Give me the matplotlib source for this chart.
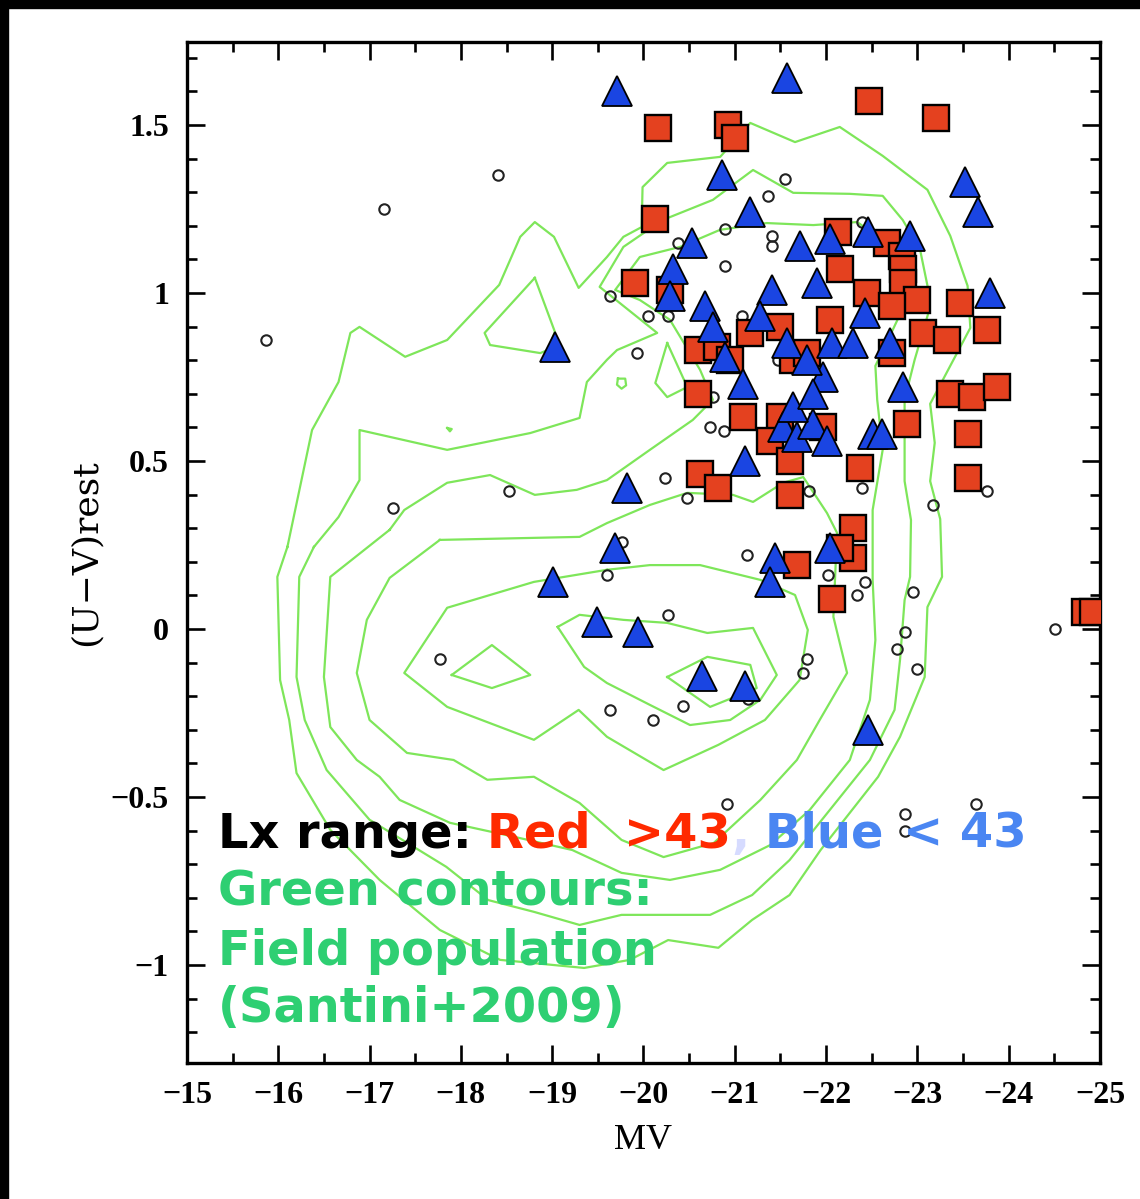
import matplotlib
matplotlib.use('Agg')
import matplotlib.pyplot as plt
from matplotlib.ticker import MultipleLocator
from matplotlib.patches import Rectangle

# --- field population contours (MV, U-V), outermost first ---
lev1_mv = [-16.10, -15.99, -16.02, -16.12, -16.20, -16.57, -17.11, -17.77, -18.43, -19.35, -19.85, -20.27,
           -20.82, -21.19, -21.60, -21.94, -22.57, -22.81, -23.08, -23.11, -23.27, -23.25, -23.14, -23.19,
           -23.14, -23.36, -23.58, -23.55, -23.36, -23.11, -22.62, -22.15, -21.66, -21.17, -20.84, -20.26,
           -19.99, -19.98, -19.78, -19.60, -19.29, -19.02, -18.81, -18.65, -18.42, -17.85, -17.39, -16.89,
           -16.79, -16.66, -16.37]
lev1_uv = [0.244, 0.155, -0.152, -0.271, -0.429, -0.598, -0.747, -0.896, -0.985, -1.009, -0.985, -0.926,
           -0.949, -0.866, -0.792, -0.658, -0.440, -0.321, -0.143, 0.065, 0.155, 0.327, 0.440, 0.554,
           0.670, 0.783, 0.896, 1.021, 1.170, 1.307, 1.408, 1.494, 1.449, 1.506, 1.405, 1.387,
           1.315, 1.196, 1.167, 1.107, 1.015, 1.167, 1.211, 1.167, 1.024, 0.860, 0.810, 0.899,
           0.881, 0.735, 0.592]

lev2_mv = [-16.39, -16.23, -16.20, -16.29, -16.53, -17.00, -17.84, -18.30, -18.80, -19.30, -19.76, -20.27,
           -20.73, -21.19, -21.60, -22.04, -22.48, -22.75, -22.81, -22.86, -22.92, -22.93, -22.86, -22.86,
           -22.86, -22.97, -23.12, -23.12, -23.03, -22.84, -22.62, -22.26, -21.64, -21.20, -20.76, -20.21,
           -19.78, -19.52, -20.15, -19.71, -19.60, -19.38, -19.30, -18.76, -17.85, -16.89, -16.89, -16.66]
lev2_uv = [0.244, 0.155, -0.143, -0.271, -0.420, -0.568, -0.708, -0.807, -0.842, -0.881, -0.851, -0.851,
           -0.851, -0.792, -0.688, -0.539, -0.390, -0.241, -0.092, 0.086, 0.155, 0.324, 0.440, 0.562,
           0.682, 0.801, 0.940, 1.009, 1.128, 1.217, 1.289, 1.295, 1.298, 1.366, 1.277, 1.217,
           1.137, 1.018, 0.881, 0.830, 0.801, 0.735, 0.628, 0.583, 0.533, 0.592, 0.443, 0.333]

lev3_mv = [-17.22, -17.38, -17.85, -18.32, -18.81, -19.27, -19.60, -20.07, -20.54, -20.76, -20.62, -20.29,
           -19.96, -19.69, -19.96, -20.40, -20.84, -21.35, -21.86, -22.34, -22.73, -22.92, -22.73, -22.54,
           -22.56, -22.62, -22.51, -22.51, -22.54, -22.48, -22.26, -21.82, -21.39, -20.84, -20.29, -19.76,
           -19.22, -18.59, -17.88, -17.33, -17.11, -16.86, -16.57, -16.50, -16.57]
lev3_uv = [0.295, 0.354, 0.435, 0.458, 0.399, 0.414, 0.443, 0.533, 0.622, 0.682, 0.771, 0.920,
           0.979, 1.009, 1.107, 1.137, 1.188, 1.208, 1.202, 1.211, 1.137, 1.000, 0.890, 0.783,
           0.682, 0.533, 0.354, 0.146, -0.033, -0.211, -0.390, -0.539, -0.643, -0.717, -0.747, -0.726,
           -0.658, -0.619, -0.577, -0.509, -0.440, -0.390, -0.292, -0.143, 0.155]

lev4_mv = [-17.77, -19.30, -19.60, -20.07, -20.48, -20.98, -21.20, -21.53, -21.75, -22.01, -22.12, -22.08,
           -22.23, -21.93, -21.68, -21.28, -20.77, -20.22, -19.76, -19.30, -18.80, -18.29, -17.92, -17.41,
           -17.00, -16.86, -16.97, -17.22]
lev4_uv = [0.265, 0.274, 0.315, 0.369, 0.405, 0.399, 0.378, 0.435, 0.452, 0.345, 0.286, 0.036,
           -0.131, -0.271, -0.390, -0.509, -0.637, -0.679, -0.628, -0.518, -0.440, -0.449, -0.390, -0.369,
           -0.271, -0.131, 0.027, 0.152]

lev5_mv = [-19.60, -18.80, -17.85, -17.38, -17.85, -18.80, -19.29, -19.60, -20.22, -20.82, -21.33, -21.71,
           -21.80, -21.66, -21.28, -20.62, -20.07]
lev5_uv = [0.176, 0.140, 0.063, -0.131, -0.232, -0.330, -0.241, -0.321, -0.420, -0.345, -0.271, -0.152,
           -0.003, 0.101, 0.146, 0.190, 0.190]

lev6_mv = [-19.06, -19.30, -19.78, -20.26, -20.70, -21.20, -21.46, -21.28, -20.95, -20.51, -20.07, -19.60, -19.35]
lev6_uv = [0.006, 0.042, 0.027, 0.018, -0.012, 0.003, -0.137, -0.211, -0.271, -0.286, -0.226, -0.161, -0.113]

peak_blue_mv = [-20.26, -20.70, -21.17, -21.24, -20.73]
peak_blue_uv = [-0.143, -0.083, -0.107, -0.176, -0.232]
peak_left_mv = [-17.90, -18.34, -18.76, -18.34]
peak_left_uv = [-0.137, -0.048, -0.137, -0.176]
isle_top_mv = [-18.81, -19.03, -18.95, -18.87, -18.32, -18.26]
isle_top_uv = [1.045, 0.884, 0.830, 0.821, 0.845, 0.881]
isle_mid_mv = [-20.26, -20.48, -20.26, -20.13]
isle_mid_uv = [0.851, 0.720, 0.690, 0.732]
isle_tiny_mv = [-19.72, -19.80, -19.81, -19.76, -19.71]
isle_tiny_uv = [0.745, 0.745, 0.725, 0.715, 0.727]
isle_dot_mv = [-17.85, -17.90, -17.88]
isle_dot_uv = [0.598, 0.595, 0.588]

contours = [(lev1_mv, lev1_uv), (lev2_mv, lev2_uv), (lev3_mv, lev3_uv), (lev4_mv, lev4_uv),
            (lev5_mv, lev5_uv), (lev6_mv, lev6_uv), (peak_blue_mv, peak_blue_uv),
            (peak_left_mv, peak_left_uv), (isle_top_mv, isle_top_uv), (isle_mid_mv, isle_mid_uv),
            (isle_tiny_mv, isle_tiny_uv), (isle_dot_mv, isle_dot_uv)]

# --- X-ray sources, Lx > 43 (red squares) ---
red_mv = [-20.16, -20.93, -21.00, -22.47, -23.20, -20.13, -19.91, -20.29, -22.13, -22.67,
          -22.83, -22.84, -22.84, -22.15, -23.00, -22.45, -22.72, -23.47, -23.76, -23.06,
          -23.32, -22.72, -22.04, -21.17, -21.50, -20.60, -20.80, -20.95, -20.60, -21.09,
          -23.36, -23.60, -23.87, -22.89, -23.55, -23.55, -21.64, -21.79, -21.97, -21.50,
          -21.39, -21.60, -20.62, -20.82, -21.60, -22.37, -22.29, -22.29, -22.15, -21.68,
          -22.06, -24.84, -24.92]
red_uv = [1.49, 1.50, 1.46, 1.57, 1.52, 1.22, 1.03, 1.01, 1.18, 1.15,
          1.11, 1.07, 1.03, 1.07, 0.98, 1.00, 0.96, 0.97, 0.89, 0.88,
          0.86, 0.82, 0.92, 0.88, 0.90, 0.83, 0.84, 0.80, 0.70, 0.63,
          0.70, 0.69, 0.72, 0.61, 0.58, 0.45, 0.80, 0.82, 0.60, 0.63,
          0.56, 0.50, 0.46, 0.42, 0.40, 0.48, 0.30, 0.21, 0.24, 0.19,
          0.09, 0.05, 0.05]

# --- X-ray sources, Lx < 43 (blue triangles) ---
blue_mv = [-19.71, -21.57, -20.86, -21.17, -21.71, -22.04, -22.46, -22.92, -23.52, -23.66,
           -23.80, -20.53, -20.32, -20.29, -20.67, -20.76, -20.89, -21.09, -21.41, -21.28,
           -21.57, -21.90, -22.06, -22.29, -22.43, -22.70, -22.84, -21.97, -22.51, -22.61,
           -21.53, -21.68, -21.86, -22.01, -21.64, -21.86, -21.11, -19.82, -19.69, -19.01,
           -19.49, -19.94, -20.64, -21.11, -21.44, -21.39, -22.04, -22.46, -19.03, -21.79]
blue_uv = [1.60, 1.64, 1.35, 1.24, 1.14, 1.16, 1.18, 1.17, 1.33, 1.24,
           1.00, 1.15, 1.07, 0.99, 0.96, 0.90, 0.81, 0.73, 1.01, 0.93,
           0.85, 1.03, 0.85, 0.85, 0.94, 0.85, 0.72, 0.75, 0.58, 0.58,
           0.60, 0.57, 0.61, 0.56, 0.66, 0.70, 0.50, 0.42, 0.24, 0.14,
           0.02, -0.01, -0.14, -0.17, 0.21, 0.14, 0.24, -0.30, 0.84, 0.80]

# --- undetected galaxies (open circles) ---
gal_mv = [-15.87, -17.16, -18.41, -18.53, -17.26, -17.77, -19.63, -20.05, -20.27, -19.93,
          -20.38, -20.89, -20.89, -21.41, -21.41, -21.36, -21.55, -21.08, -21.47, -20.76,
          -20.73, -20.88, -20.24, -20.48, -21.81, -22.39, -23.17, -23.76, -19.76, -19.60,
          -21.13, -22.02, -22.43, -22.34, -22.95, -20.27, -21.79, -21.75, -22.86, -22.78,
          -23.00, -19.63, -20.10, -20.43, -21.14, -20.91, -22.86, -22.86, -23.64, -24.51,
          -22.39]
gal_uv = [0.86, 1.25, 1.35, 0.41, 0.36, -0.09, 0.99, 0.93, 0.93, 0.82,
          1.15, 1.19, 1.08, 1.17, 1.14, 1.29, 1.34, 0.93, 0.80, 0.69,
          0.60, 0.59, 0.45, 0.39, 0.41, 0.42, 0.37, 0.41, 0.26, 0.16,
          0.22, 0.16, 0.14, 0.10, 0.11, 0.04, -0.09, -0.13, -0.01, -0.06,
          -0.12, -0.24, -0.27, -0.23, -0.21, -0.52, -0.55, -0.60, -0.52, 0.00,
          1.21]

fig = plt.figure(figsize=(11.4, 11.99), dpi=100)
ax = fig.add_axes([0.1640, 0.1134, 0.8009, 0.8516])

for cx, cy in contours:
    ax.plot(list(cx) + [cx[0]], list(cy) + [cy[0]], color='#7ee65a', lw=1.6, zorder=1)

ax.plot(gal_mv, gal_uv, 'o', ms=7.5, mfc='none', mec='#222222', mew=1.5, zorder=2)
ax.plot(red_mv, red_uv, 's', ms=18.5, mfc='#e4411f', mec='black', mew=1.7, zorder=3)
ax.plot(blue_mv, blue_uv, '^', ms=22, mfc='#1a45e2', mec='black', mew=1.3, zorder=4)

ax.set_xlim(-15, -25)
ax.set_ylim(-1.292, 1.747)
ax.xaxis.set_major_locator(MultipleLocator(1))
ax.xaxis.set_minor_locator(MultipleLocator(0.5))
ax.yaxis.set_major_locator(MultipleLocator(0.5))
ax.yaxis.set_minor_locator(MultipleLocator(0.1))
ax.tick_params(which='both', direction='in', top=True, right=True, width=1.9, color='black')
ax.tick_params(which='major', length=13, pad=13)
ax.tick_params(which='minor', length=7.5)
for sp in ax.spines.values():
    sp.set_linewidth(2.4)

tick_font = {'family': 'Liberation Serif', 'weight': 'bold', 'size': 23}
ax.set_xticks(range(-15, -26, -1))
ax.set_xticklabels([f'\u2212{abs(v)}' for v in range(-15, -26, -1)], fontdict=tick_font)
yt = [-1, -0.5, 0, 0.5, 1, 1.5]
ax.set_yticks(yt)
ax.set_yticklabels(['\u22121', '\u22120.5', '0', '0.5', '1', '1.5'], fontdict=tick_font)

ax.set_xlabel('MV', family='Liberation Serif', size=26, labelpad=10)
ax.set_ylabel('(U\u2212V)rest', family='DejaVu Serif', size=26, labelpad=6)

# annotation block
tf = dict(transform=ax.transAxes, family='DejaVu Sans', weight='bold', size=34.5, va='baseline', zorder=6)
ax.text(0.034, 0.211, 'Lx range:', color='black', **tf)
ax.text(0.329, 0.211, 'Red  >43', color='#ff2a00', **tf)
ax.text(0.596, 0.211, ',', color='#d6dbff', **tf)
ax.text(0.633, 0.211, 'Blue', color='#4a86f2', **tf)
ax.text(0.784, 0.211, '< 43', color='#4a86f2', **tf)
green = '#2ecf72'
ax.text(0.034, 0.154, 'Green contours:', color=green, **tf)
ax.text(0.034, 0.096, 'Field population', color=green, **tf)
ax.text(0.034, 0.040, '(Santini+2009)', color=green, **tf)

# black frame strips at the top and left edge of the image
fig.patches.append(Rectangle((0, 1 - 8 / 1199), 1, 8 / 1199, transform=fig.transFigure, color='black'))
fig.patches.append(Rectangle((0, 0), 8 / 1140, 1, transform=fig.transFigure, color='black'))

fig.savefig('out.png', dpi=100)
